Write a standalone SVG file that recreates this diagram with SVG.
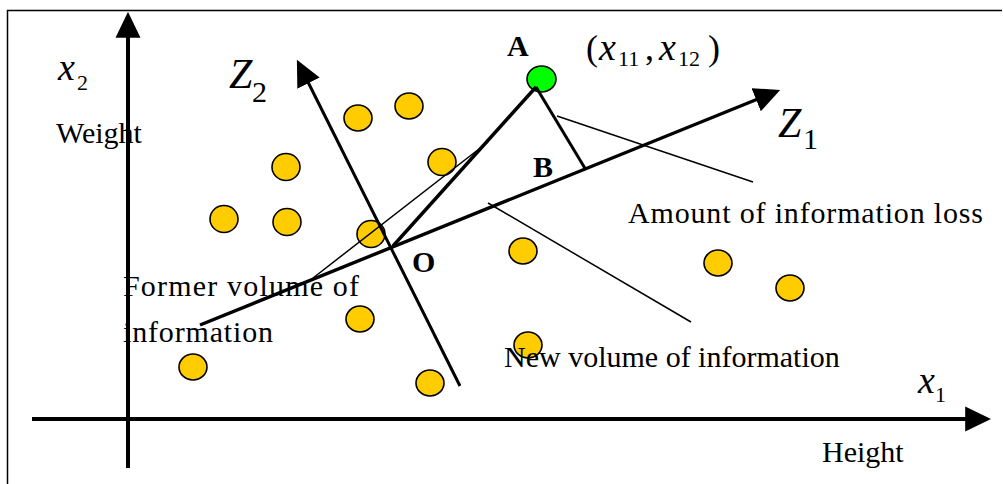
<svg xmlns="http://www.w3.org/2000/svg" width="1003" height="484" viewBox="0 0 1003 484">
<style>
.pt{fill:#FFCC00;stroke:#000;stroke-width:1.6}
.ptA{fill:#00FF00;stroke:#000;stroke-width:1.6}
.ax{stroke:#000;stroke-width:4;fill:none}
.za{stroke:#000;stroke-width:3.4;fill:none}
.thin{stroke:#000;stroke-width:1.5;fill:none}
text{font-family:"Liberation Serif","Times New Roman",serif;fill:#000}
.lbl{font-size:30px}
.bold{font-size:30px;font-weight:bold}
.mi{font-size:38px;font-style:italic}
.mz{font-size:42px;font-style:italic}
.sub{font-size:22px}
.subz{font-size:30px}
.par{font-size:36px}
</style>
<defs>
<marker id="arr" markerUnits="userSpaceOnUse" markerWidth="26" markerHeight="26" viewBox="0 0 25 24" refX="20" refY="12" orient="auto">
<path d="M0,0 L25,12 L0,24 z" fill="#000"/>
</marker>
</defs>
<rect width="1003" height="484" fill="#fff"/>
<path d="M7.5,484 V10.5 H1002" stroke="#000" stroke-width="1.5" fill="none"/>

<g id="points">
<ellipse class="pt" cx="409" cy="106" rx="14" ry="13"/>
<ellipse class="pt" cx="358" cy="118" rx="14" ry="13"/>
<ellipse class="pt" cx="286" cy="167" rx="14" ry="13.5"/>
<ellipse class="pt" cx="442" cy="162" rx="14" ry="13.5"/>
<ellipse class="pt" cx="224" cy="219" rx="14" ry="13.5"/>
<ellipse class="pt" cx="287" cy="222" rx="14" ry="13.5"/>
<ellipse class="pt" cx="371" cy="234" rx="14" ry="13.5"/>
<ellipse class="pt" cx="523" cy="251" rx="14" ry="13"/>
<ellipse class="pt" cx="718" cy="263" rx="14" ry="13"/>
<ellipse class="pt" cx="790" cy="288" rx="14" ry="13"/>
<ellipse class="pt" cx="360" cy="319" rx="14" ry="13"/>
<ellipse class="pt" cx="528" cy="345" rx="14" ry="13"/>
<ellipse class="pt" cx="193" cy="367" rx="14" ry="13"/>
<ellipse class="pt" cx="430" cy="383" rx="14" ry="13"/>
</g>
<g id="pointA">
<ellipse class="ptA" cx="541.5" cy="79" rx="14.5" ry="13"/>
</g>

<g id="connectors">
<line class="ax" x1="128" y1="468" x2="128" y2="17" marker-end="url(#arr)"/>
<line class="ax" x1="32" y1="419" x2="986" y2="419" marker-end="url(#arr)"/>
<line class="za" x1="200" y1="325" x2="775.4" y2="91.9" marker-end="url(#arr)"/>
<line class="za" x1="460" y1="386" x2="299.2" y2="64.5" marker-end="url(#arr)" style="stroke-width:3"/>
<line class="za" x1="393" y1="246" x2="536" y2="87"/>
<line class="za" x1="536" y1="87" x2="586" y2="170" style="stroke-width:3"/>
<line class="thin" x1="557" y1="116" x2="753" y2="182"/>
<line class="thin" x1="313" y1="278" x2="488" y2="142"/>
<line class="thin" x1="488" y1="203" x2="691" y2="322"/>
</g>

<g id="labels">
<text class="mi" x="58" y="80">x</text><text class="sub" x="77" y="90">2</text>
<text class="lbl" x="56" y="143">Weight</text>
<text class="mz" x="229" y="88">Z</text><text class="subz" x="252" y="102">2</text>
<text class="mz" x="778" y="137">Z</text><text class="subz" x="803" y="149">1</text>
<text class="mi" x="918" y="393">x</text><text class="sub" x="935" y="402">1</text>
<text class="lbl" x="822" y="462">Height</text>
<text class="bold" x="507" y="56">A</text>
<text class="bold" x="533" y="177">B</text>
<text class="bold" x="412" y="272">O</text>
<text class="par" x="586" y="60">(</text>
<text class="mi" x="599" y="60">x</text><text class="sub" x="618" y="66">11</text>
<text class="par" x="645" y="60">,</text>
<text class="mi" x="659" y="60">x</text><text class="sub" x="678" y="66">12</text>
<text class="par" x="708" y="60">)</text>
<text class="lbl" x="628" y="223" textLength="355" lengthAdjust="spacing">Amount of information loss</text>
<text class="lbl" x="123" y="296" textLength="236" lengthAdjust="spacing">Former volume of</text>
<text class="lbl" x="123" y="342" textLength="150" lengthAdjust="spacing">information</text>
<text class="lbl" x="504" y="367">New volume of information</text>
</g>
</svg>
